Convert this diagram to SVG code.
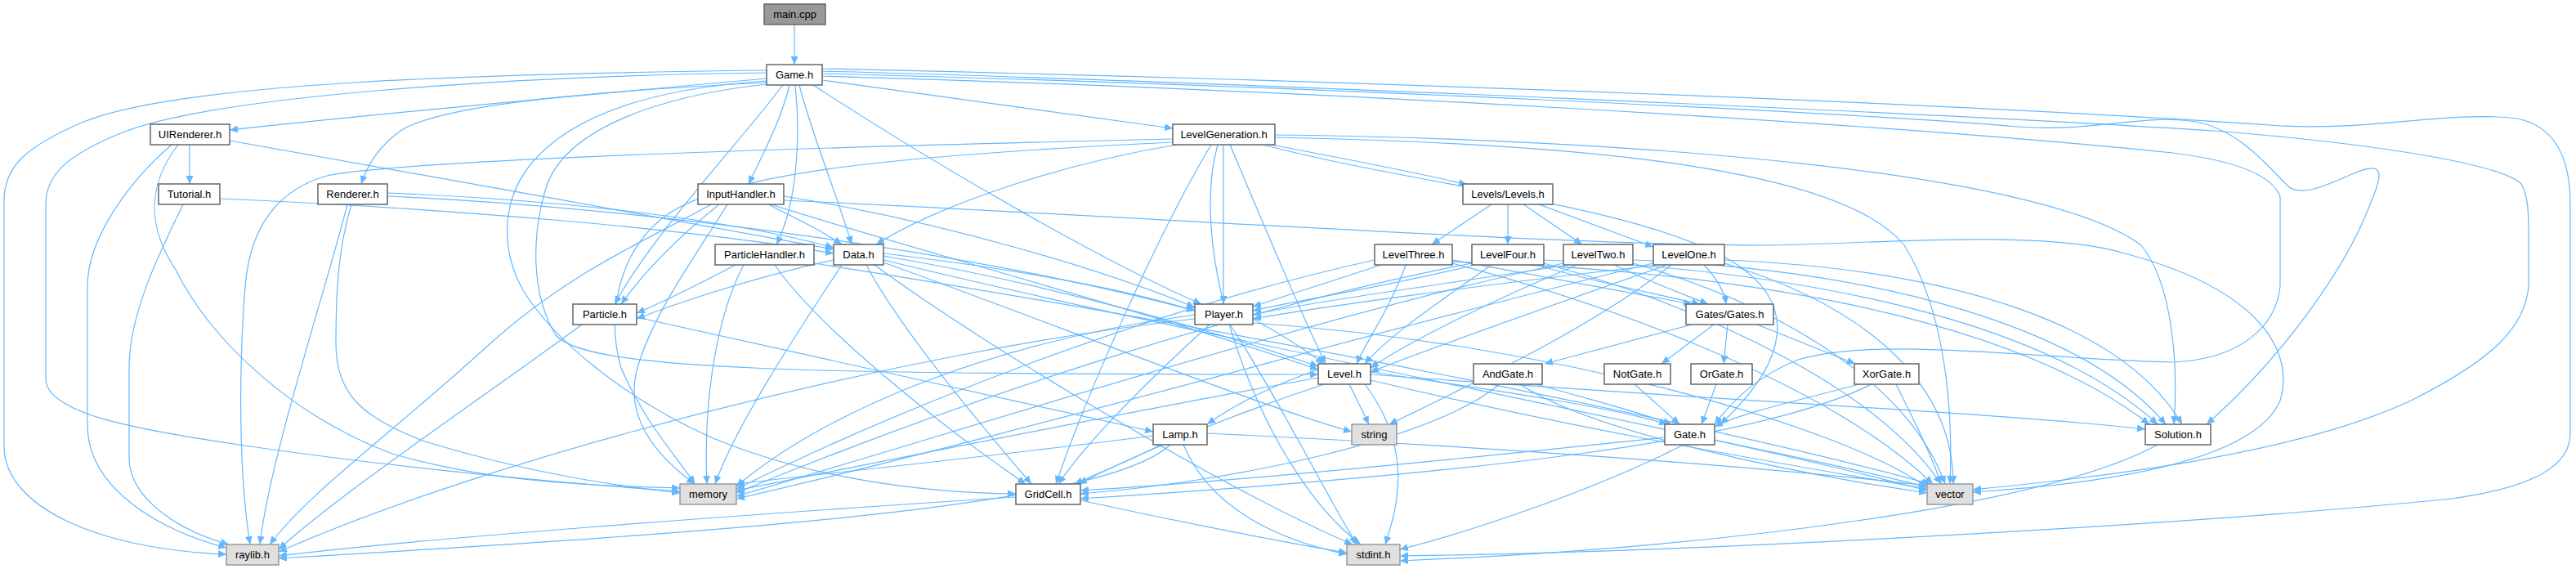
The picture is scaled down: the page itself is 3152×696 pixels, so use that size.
<svg xmlns="http://www.w3.org/2000/svg" width="3152" height="696" viewBox="0 0 3152 696">
<style>
.e{fill:none;stroke:#63b8ff;stroke-width:1.2;marker-end:url(#arr)}
.n rect{fill:#ffffff;stroke:#666666;stroke-width:1.5}
.g rect{fill:#e0e0e0;stroke:#999999;stroke-width:1.5}
.m rect{fill:#999999;stroke:#666666;stroke-width:1.5}
text{font-family:"Liberation Sans",Arial,sans-serif;font-size:13px;fill:#000000;text-anchor:middle}
</style>
<defs>
<marker id="arr" markerWidth="11" markerHeight="9" refX="10" refY="4.5" orient="auto" markerUnits="userSpaceOnUse">
<path d="M0,0 L10,4.5 L0,9 z" fill="#63b8ff"/>
</marker>
</defs>
<rect width="3152" height="696" fill="#ffffff"/>
<g id="edges">
<path class="e" d="M972,30 L972,79"/>
<path class="e" d="M938,96 C 760,112 450,140 281,159"/>
<path class="e" d="M938,86 C 600,90 220,100 100,150 C 30,180 5,205 5,245 L5,546 C 5,620 120,672 277,678"/>
<path class="e" d="M938,89 C 620,93 260,118 150,162 C 80,190 56,215 56,250 L56,463 C 56,505 160,525 306,546 C 500,574 700,592 832,601"/>
<path class="e" d="M938,101 C 720,112 540,128 490,160 C 465,178 450,200 442,225"/>
<path class="e" d="M938,99 C 800,108 700,140 650,200 C 610,250 615,310 640,355 C 680,420 770,490 870,535 C 990,585 1130,603 1243,604"/>
<path class="e" d="M938,103 C 800,118 690,160 668,230 C 650,290 650,360 680,410 C 720,455 1000,457 1613,458"/>
<path class="e" d="M966,104 C 955,150 930,195 916,225"/>
<path class="e" d="M973,104 C 980,170 975,250 950,299"/>
<path class="e" d="M978,104 C 995,170 1025,240 1042,299"/>
<path class="e" d="M1006,98 L1435,157"/>
<path class="e" d="M995,104 C 1150,205 1350,320 1470,372"/>
<path class="e" d="M958,104 C 900,180 800,285 752,372"/>
<path class="e" d="M1006,84 C 1500,95 2300,120 2791,154 C 2900,160 3000,135 3080,145 C 3130,155 3145,200 3145,250 L3145,530 C 3145,570 3100,596 3000,610 C 2700,640 2100,675 1713,680"/>
<path class="e" d="M1006,87 C 1500,100 2400,140 2709,160 C 2900,175 3060,200 3085,225 C 3094,240 3094,260 3094,300 L3094,350 C 3090,400 3050,440 2950,490 C 2800,560 2550,585 2414,599"/>
<path class="e" d="M1006,90 C 1600,105 2300,140 2469,155 C 2560,162 2620,140 2680,148 C 2740,155 2780,210 2800,228 C 2815,240 2840,230 2880,212 C 2920,195 2915,215 2900,250 C 2870,330 2790,440 2700,519"/>
<path class="e" d="M1006,93 C 1600,110 2300,150 2658,187 C 2740,197 2780,215 2790,240 L2790,350 C 2785,400 2740,440 2658,443 C 2500,440 2300,410 2200,440 C 2150,460 2120,490 2098,519"/>
<path class="e" d="M232,177 L232,225"/>
<path class="e" d="M210,177 C 160,220 107,290 107,350 L107,520 C 107,600 200,650 277,670"/>
<path class="e" d="M218,177 C 185,220 175,270 215,330 C 260,420 360,510 480,555 C 600,590 720,594 832,597"/>
<path class="e" d="M281,172 C 500,210 800,265 1020,305"/>
<path class="e" d="M224,250 C 200,300 158,380 158,450 L158,560 C 158,610 220,650 280,666"/>
<path class="e" d="M269,243 C 550,255 850,280 1020,310"/>
<path class="e" d="M425,250 C 400,350 330,560 318,666"/>
<path class="e" d="M430,250 C 415,300 411,350 411,420 C 411,480 440,510 520,540 C 650,580 760,595 832,603"/>
<path class="e" d="M474,236 C 700,245 900,270 1020,303"/>
<path class="e" d="M474,240 C 800,255 1200,310 1462,380"/>
<path class="e" d="M870,250 C 800,290 700,330 600,420 C 480,530 380,600 330,666"/>
<path class="e" d="M890,250 C 860,300 800,380 780,450 C 760,520 820,570 850,592"/>
<path class="e" d="M940,250 C 980,270 1010,285 1030,299"/>
<path class="e" d="M880,250 C 830,290 790,330 760,372"/>
<path class="e" d="M959,240 C 1150,270 1350,330 1462,376"/>
<path class="e" d="M959,245 C 1400,265 1900,300 2161,300 C 2300,298 2500,280 2600,310 C 2750,350 2810,420 2790,490 C 2760,560 2600,590 2414,602"/>
<path class="e" d="M943,250 C 1100,300 1400,380 1613,452"/>
<path class="e" d="M900,324 C 860,345 810,370 779,383"/>
<path class="e" d="M910,324 C 880,380 860,480 865,592"/>
<path class="e" d="M948,324 C 1000,400 1150,520 1255,592"/>
<path class="e" d="M996,322 C 1500,400 2100,520 2362,592"/>
<path class="e" d="M1020,318 C 920,340 830,370 779,390"/>
<path class="e" d="M1081,310 C 1250,330 1380,355 1462,380"/>
<path class="e" d="M1081,313 C 1300,350 1500,410 1613,448"/>
<path class="e" d="M1060,324 C 1100,400 1200,520 1262,592"/>
<path class="e" d="M1030,324 C 980,400 900,520 875,592"/>
<path class="e" d="M1070,324 C 1200,420 1500,600 1655,666"/>
<path class="e" d="M1081,318 C 1500,420 2100,530 2358,600"/>
<path class="e" d="M1081,321 C 1300,400 1550,500 1654,528"/>
<path class="e" d="M1555,177 C 1650,195 1740,212 1795,226"/>
<path class="e" d="M1440,177 C 1300,200 1150,250 1072,299"/>
<path class="e" d="M1497,177 L1497,372"/>
<path class="e" d="M1505,177 C 1540,260 1590,380 1622,445"/>
<path class="e" d="M1482,177 C 1420,280 1330,480 1292,592"/>
<path class="e" d="M1490,177 C 1450,320 1550,580 1665,666"/>
<path class="e" d="M1435,170 C 1000,180 500,195 400,215 C 330,235 305,290 300,350 C 292,450 292,580 306,666"/>
<path class="e" d="M1435,174 C 1100,190 900,210 820,260 C 760,300 740,380 760,450 C 790,520 830,560 850,592"/>
<path class="e" d="M1560,168 C 1900,175 2250,200 2330,300 C 2380,380 2390,500 2386,592"/>
<path class="e" d="M1560,165 C 2000,170 2500,210 2620,300 C 2660,350 2665,450 2660,519"/>
<path class="e" d="M1545,177 C 1750,230 2000,250 2120,320 C 2200,370 2190,440 2105,519"/>
<path class="e" d="M1825,250 L1752,299"/>
<path class="e" d="M1845,250 L1845,299"/>
<path class="e" d="M1864,250 L1936,299"/>
<path class="e" d="M1883,250 L2023,302"/>
<path class="e" d="M1690,324 C 1640,340 1580,360 1533,375"/>
<path class="e" d="M1720,324 C 1700,380 1670,420 1660,445"/>
<path class="e" d="M1777,318 C 1900,340 2000,360 2070,372"/>
<path class="e" d="M1682,318 C 1400,380 1100,500 901,598"/>
<path class="e" d="M1777,322 C 2000,380 2250,480 2365,592"/>
<path class="e" d="M1777,320 C 2100,330 2450,380 2630,519"/>
<path class="e" d="M1805,324 C 1700,350 1600,365 1533,380"/>
<path class="e" d="M1825,324 C 1760,370 1700,410 1670,445"/>
<path class="e" d="M1880,324 C 1950,345 2030,360 2080,372"/>
<path class="e" d="M1801,322 C 1500,380 1150,500 901,603"/>
<path class="e" d="M1889,322 C 2100,380 2300,480 2375,592"/>
<path class="e" d="M1889,318 C 2200,330 2500,390 2640,519"/>
<path class="e" d="M1920,324 C 1750,350 1600,370 1533,385"/>
<path class="e" d="M1930,324 C 1820,370 1720,420 1677,450"/>
<path class="e" d="M1975,324 C 2020,345 2060,360 2090,372"/>
<path class="e" d="M1913,322 C 1600,390 1200,520 901,607"/>
<path class="e" d="M1998,322 C 2200,380 2340,480 2380,592"/>
<path class="e" d="M1998,318 C 2300,330 2550,400 2650,519"/>
<path class="e" d="M2030,324 C 1800,350 1620,375 1533,390"/>
<path class="e" d="M2040,324 C 1880,380 1740,430 1677,455"/>
<path class="e" d="M2085,324 C 2100,340 2110,355 2112,372"/>
<path class="e" d="M2023,322 C 1700,400 1250,530 901,610"/>
<path class="e" d="M2110,322 C 2300,380 2390,480 2390,592"/>
<path class="e" d="M2110,318 C 2400,330 2600,400 2670,519"/>
<path class="e" d="M2045,324 C 1950,400 1800,470 1700,519"/>
<path class="e" d="M712,397 C 600,480 420,600 341,672"/>
<path class="e" d="M779,388 L1411,528"/>
<path class="e" d="M1533,390 C 1570,410 1600,430 1620,445"/>
<path class="e" d="M1480,397 C 1400,470 1330,540 1295,592"/>
<path class="e" d="M1462,385 C 1200,420 1000,510 901,595"/>
<path class="e" d="M1462,390 C 1100,430 600,560 341,675"/>
<path class="e" d="M1505,397 C 1560,480 1620,600 1660,666"/>
<path class="e" d="M1533,395 C 1900,420 2250,520 2358,596"/>
<path class="e" d="M2070,397 L1890,445"/>
<path class="e" d="M2097,397 L2033,445"/>
<path class="e" d="M2114,397 L2109,445"/>
<path class="e" d="M2150,397 L2270,445"/>
<path class="e" d="M1651,470 L1675,519"/>
<path class="e" d="M1670,470 C 1730,550 1710,620 1695,666"/>
<path class="e" d="M1677,455 C 1850,480 1980,500 2040,519"/>
<path class="e" d="M1677,458 C 2100,490 2450,505 2625,525"/>
<path class="e" d="M1677,465 C 1950,530 2200,570 2358,598"/>
<path class="e" d="M1620,470 C 1500,510 1380,560 1320,592"/>
<path class="e" d="M1613,462 C 1400,500 1100,560 901,600"/>
<path class="e" d="M1613,452 C 1560,470 1510,495 1477,519"/>
<path class="e" d="M1880,470 C 1950,490 2010,505 2045,519"/>
<path class="e" d="M1835,470 C 1750,540 1500,590 1322,604"/>
<path class="e" d="M1860,470 C 1950,530 2200,580 2358,603"/>
<path class="e" d="M2000,470 L2055,519"/>
<path class="e" d="M2100,470 L2082,519"/>
<path class="e" d="M2275,470 C 2200,490 2130,505 2098,522"/>
<path class="e" d="M2320,470 C 2340,510 2365,560 2375,592"/>
<path class="e" d="M2290,470 C 2150,540 1800,580 1322,610"/>
<path class="e" d="M2037,535 C 1800,560 1500,590 1322,600"/>
<path class="e" d="M2098,538 C 2200,560 2300,580 2358,596"/>
<path class="e" d="M2060,544 C 1950,600 1800,650 1713,672"/>
<path class="e" d="M1420,544 C 1380,565 1340,580 1315,592"/>
<path class="e" d="M1432,544 C 1350,620 900,650 341,683"/>
<path class="e" d="M1448,544 C 1480,620 1560,660 1648,678"/>
<path class="e" d="M1477,530 C 1800,545 2150,570 2358,594"/>
<path class="e" d="M1411,533 C 1200,560 1000,580 901,592"/>
<path class="e" d="M2640,544 C 2500,620 2100,670 1713,686"/>
<path class="e" d="M1243,608 C 900,630 500,660 341,680"/>
<path class="e" d="M1322,612 C 1450,640 1580,665 1648,676"/>
</g>
<g id="node-main-cpp" class="m"><rect x="935" y="5" width="75" height="25"/><text x="972.5" y="22">main.cpp</text></g>
<g id="node-game-h" class="n"><rect x="938" y="79" width="68" height="25"/><text x="972" y="96">Game.h</text></g>
<g id="node-uirenderer-h" class="n"><rect x="184" y="152" width="97" height="25"/><text x="232.5" y="169">UIRenderer.h</text></g>
<g id="node-levelgeneration-h" class="n"><rect x="1435" y="152" width="125" height="25"/><text x="1497.5" y="169">LevelGeneration.h</text></g>
<g id="node-tutorial-h" class="n"><rect x="194" y="225" width="75" height="25"/><text x="231.5" y="242">Tutorial.h</text></g>
<g id="node-renderer-h" class="n"><rect x="389" y="225" width="85" height="25"/><text x="431.5" y="242">Renderer.h</text></g>
<g id="node-inputhandler-h" class="n"><rect x="854" y="225" width="105" height="25"/><text x="906.5" y="242">InputHandler.h</text></g>
<g id="node-levels-h" class="n"><rect x="1790" y="225" width="110" height="25"/><text x="1845" y="242">Levels/Levels.h</text></g>
<g id="node-particlehandler-h" class="n"><rect x="875" y="299" width="121" height="25"/><text x="935.5" y="316">ParticleHandler.h</text></g>
<g id="node-data-h" class="n"><rect x="1020" y="299" width="61" height="25"/><text x="1050.5" y="316">Data.h</text></g>
<g id="node-levelthree-h" class="n"><rect x="1682" y="299" width="95" height="25"/><text x="1729.5" y="316">LevelThree.h</text></g>
<g id="node-levelfour-h" class="n"><rect x="1801" y="299" width="88" height="25"/><text x="1845" y="316">LevelFour.h</text></g>
<g id="node-leveltwo-h" class="n"><rect x="1913" y="299" width="85" height="25"/><text x="1955.5" y="316">LevelTwo.h</text></g>
<g id="node-levelone-h" class="n"><rect x="2023" y="299" width="87" height="25"/><text x="2066.5" y="316">LevelOne.h</text></g>
<g id="node-particle-h" class="n"><rect x="701" y="372" width="78" height="25"/><text x="740" y="389">Particle.h</text></g>
<g id="node-player-h" class="n"><rect x="1462" y="372" width="71" height="25"/><text x="1497.5" y="389">Player.h</text></g>
<g id="node-gates-h" class="n"><rect x="2063" y="372" width="107" height="25"/><text x="2116.5" y="389">Gates/Gates.h</text></g>
<g id="node-level-h" class="n"><rect x="1613" y="445" width="64" height="25"/><text x="1645" y="462">Level.h</text></g>
<g id="node-andgate-h" class="n"><rect x="1803" y="445" width="84" height="25"/><text x="1845" y="462">AndGate.h</text></g>
<g id="node-notgate-h" class="n"><rect x="1963" y="445" width="81" height="25"/><text x="2003.5" y="462">NotGate.h</text></g>
<g id="node-orgate-h" class="n"><rect x="2069" y="445" width="75" height="25"/><text x="2106.5" y="462">OrGate.h</text></g>
<g id="node-xorgate-h" class="n"><rect x="2269" y="445" width="79" height="25"/><text x="2308.5" y="462">XorGate.h</text></g>
<g id="node-lamp-h" class="n"><rect x="1411" y="519" width="66" height="25"/><text x="1444" y="536">Lamp.h</text></g>
<g id="node-string" class="g"><rect x="1654" y="519" width="55" height="25"/><text x="1681.5" y="536">string</text></g>
<g id="node-gate-h" class="n"><rect x="2037" y="519" width="61" height="25"/><text x="2067.5" y="536">Gate.h</text></g>
<g id="node-solution-h" class="n"><rect x="2625" y="519" width="80" height="25"/><text x="2665" y="536">Solution.h</text></g>
<g id="node-memory" class="g"><rect x="832" y="592" width="69" height="25"/><text x="866.5" y="609">memory</text></g>
<g id="node-gridcell-h" class="n"><rect x="1243" y="592" width="79" height="25"/><text x="1282.5" y="609">GridCell.h</text></g>
<g id="node-vector" class="g"><rect x="2358" y="592" width="56" height="25"/><text x="2386" y="609">vector</text></g>
<g id="node-raylib-h" class="g"><rect x="277" y="666" width="64" height="25"/><text x="309" y="683">raylib.h</text></g>
<g id="node-stdint-h" class="g"><rect x="1648" y="666" width="65" height="25"/><text x="1680.5" y="683">stdint.h</text></g>
</svg>
